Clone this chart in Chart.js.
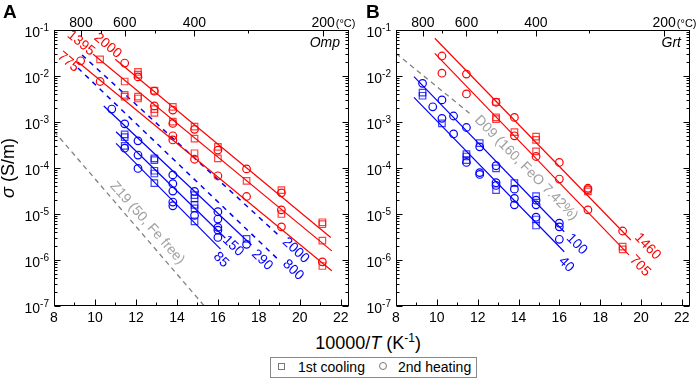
<!DOCTYPE html>
<html><head><meta charset="utf-8">
<script src="https://cdn.jsdelivr.net/npm/chart.js@4.4.1/dist/chart.umd.min.js"></script>
<style>
html,body{margin:0;padding:0;background:#fff;}
#wrap{position:relative;width:699px;height:378px;overflow:hidden;font-family:"Liberation Sans",Arial,sans-serif;color:#000;}
canvas{position:absolute;top:0;}
#cA{left:0;} #cB{left:344px;}
.pl{position:absolute;top:2px;font-weight:bold;font-size:19px;line-height:19px;}
#xt{position:absolute;left:218px;width:300px;text-align:center;top:333px;font-size:18px;line-height:20px;white-space:nowrap;}
#xt .sup{position:relative;top:-7px;font-size:12px;}
#lg{position:absolute;left:270px;top:357px;width:207px;height:21px;border:1px solid #888;box-sizing:border-box;}
.mk{position:absolute;box-sizing:border-box;border:1.2px solid #777;}
.sq{width:7px;height:7px;}
.ci{width:8px;height:8px;border-radius:50%;}
.lt{position:absolute;top:359px;font-size:14px;line-height:16px;white-space:nowrap;}
</style></head>
<body>
<div id="wrap">
  <canvas id="cA" width="362" height="330"></canvas>
  <canvas id="cB" width="355" height="330"></canvas>
  <div class="pl" style="left:3px">A</div>
  <div class="pl" style="left:366px">B</div>
  <div id="xt">10000/<i>T</i> (K<span class="sup">-1</span>)</div>
  <div id="lg"></div>
  <span class="mk sq" style="left:278px;top:363px"></span>
  <span class="lt" style="left:298px">1st cooling</span>
  <span class="mk ci" style="left:379px;top:362px"></span>
  <span class="lt" style="left:398px">2nd heating</span>
</div>
<script>
// ---------- tick labels ----------
const xTickValues = [8, 10, 12, 14, 16, 18, 20, 22];
const tempMajorC = [800, 600, 400, 200];
const tempMinorC = [700, 500, 300];
const yExponents = [-7, -6, -5, -4, -3, -2, -1];

// ---------- Panel A : Omp  (x = 10000/T, y = sigma S/m) ----------
const ompRedCooling = [[10.25,2.29e-2],[11.45,7.59e-3],[11.45,3.89e-3],[11.45,3.55e-3],[12.1,1.23e-2],[12.1,1.07e-2],[12.1,3.55e-3],[12.1,3.24e-3],[12.9,4.79e-3],[12.9,1.91e-3],[12.9,1.58e-3],[13.8,2.14e-3],[13.8,1.02e-3],[14.86,7.94e-4],[14.86,4.37e-4],[14.86,2.09e-4],[16.0,2.88e-4],[16.0,1.62e-4],[17.4,5.25e-5],[19.1,3.31e-5],[19.1,1.0e-5],[21.1,6.61e-6],[21.1,6.03e-6],[21.1,2.63e-6],[21.1,7.41e-7]];
const ompRedHeating = [[9.3,2.14e-2],[10.25,7.59e-3],[11.45,1.91e-2],[12.1,9.55e-3],[12.9,4.68e-3],[12.9,2.24e-3],[13.8,1.82e-3],[13.8,9.33e-4],[13.8,5.01e-4],[13.8,4.07e-4],[14.86,6.92e-4],[14.86,1.55e-4],[16.0,2.45e-4],[16.0,6.76e-5],[17.4,9.55e-5],[17.4,2.40e-5],[19.1,2.88e-5],[19.1,1.23e-5],[19.1,5.25e-6],[21.1,9.12e-7]];
const ompBlueCooling = [[11.45,5.37e-4],[11.45,4.68e-4],[11.45,3.02e-4],[12.9,1.62e-4],[12.9,1.48e-4],[12.9,8.71e-5],[12.9,7.59e-5],[12.9,4.68e-5],[14.86,2.57e-5],[14.86,2.19e-5],[14.86,1.58e-5],[14.86,1.32e-5],[14.86,6.92e-6],[17.4,2.88e-6]];
const ompBlueHeating = [[10.82,1.91e-3],[11.45,9.12e-4],[11.45,2.69e-4],[12.1,3.89e-4],[12.1,1.91e-4],[12.1,9.77e-5],[13.8,7.08e-5],[13.8,4.57e-5],[13.8,3.16e-5],[13.8,1.82e-5],[13.8,1.51e-5],[14.86,3.09e-5],[14.86,9.33e-6],[16.0,1.12e-5],[16.0,7.76e-6],[16.0,5.13e-6],[16.0,4.47e-6],[16.0,3.09e-6],[17.4,2.19e-6]];
const ompFit2000 = [[10.99,2.31e-2],[21.51,3.09e-6]];
const ompFit1395 = [[9.91,2.96e-2],[21.56,1.58e-6]];
const ompFit775  = [[9.17,2.01e-2],[21.56,5.85e-7]];
const ompModel2000 = [[9.37,2.86e-2],[19.06,3.16e-6]];
const ompModel800  = [[9.17,1.49e-2],[18.92,1.05e-6]];
const ompFit290 = [[10.43,2.23e-3],[17.64,2.12e-6]];
const ompFit150 = [[11.03,6.15e-4],[16.36,3.01e-6]];
const ompFit85  = [[11.03,3.44e-4],[16.13,1.73e-6]];
const ompZ19 = [[8,6.31e-4],[15.34,1e-7]];

// ---------- Panel B : Grt ----------
const grtRedCooling = [[12.9,2.75e-3],[12.9,1.26e-3],[12.9,1.15e-3],[13.8,6.03e-4],[14.86,4.79e-4],[14.86,4.07e-4],[14.86,2.29e-4],[17.4,3.09e-5],[19.1,1.95e-6],[19.1,1.70e-6]];
const grtRedHeating = [[10.25,2.72e-2],[10.25,1.15e-2],[11.45,1.10e-2],[11.45,4.07e-3],[12.9,2.69e-3],[13.8,1.26e-3],[13.8,5.01e-4],[14.86,1.78e-4],[16.0,1.32e-4],[16.0,5.75e-5],[17.4,3.63e-5],[17.4,3.39e-5],[17.4,1.23e-5],[19.1,4.27e-6]];
const grtBlueCooling = [[9.3,4.37e-3],[9.3,3.72e-3],[10.25,9.33e-4],[11.45,2.0e-4],[11.45,1.78e-4],[11.45,1.48e-4],[12.1,3.47e-4],[12.9,9.77e-5],[12.9,3.31e-5],[13.8,4.68e-5],[14.86,2.45e-5],[14.86,7.59e-6],[14.86,5.62e-6]];
const grtBlueHeating = [[9.3,6.92e-3],[9.8,2.14e-3],[10.25,3.02e-3],[10.25,1.20e-3],[10.82,1.35e-3],[10.82,5.50e-4],[11.45,7.59e-4],[11.45,1.32e-4],[12.1,2.88e-4],[12.1,7.94e-5],[12.1,7.24e-5],[12.9,1.12e-4],[12.9,4.79e-5],[12.9,4.17e-5],[13.8,3.47e-5],[13.8,2.19e-5],[13.8,1.58e-5],[14.86,2.0e-5],[14.86,1.58e-5],[14.86,8.51e-6],[16.0,6.31e-6],[16.0,5.25e-6],[16.0,2.82e-6]];
const grtFit1460 = [[9.90,6.61e-2],[19.50,2.72e-6]];
const grtFit705  = [[9.90,3.11e-2],[19.41,1.29e-6]];
const grtFit100  = [[8.88,9.66e-3],[16.24,4.12e-6]];
const grtFit40   = [[8.88,3.44e-3],[16.24,1.51e-6]];
const grtD09 = [[8,3.1e-2],[11.6,1.55e-3]];

// ---------- styles ----------
const FONT = "'Liberation Sans', Arial, sans-serif";
const RED = '#ff0000', BLUE = '#0000ff', GRAY = '#808080', LGRAY = '#a0a0a0';
const RED_SQ = 'rgba(255,0,0,0.75)', BLUE_SQ = 'rgba(0,0,255,0.75)';
Chart.defaults.font.family = FONT;
Chart.defaults.color = '#000';

const ompLabels = [
  {t:'2000', x:10.62, y:4.54e-2, a:39.5, c:RED},
  {t:'1395', x:9.32, y:5.14e-2, a:39.5, c:RED},
  {t:'775', x:8.69, y:2.01e-2, a:39.5, c:RED},
  {t:'2000', x:19.80, y:1.61e-6, a:43, c:BLUE},
  {t:'800', x:19.67, y:6.07e-7, a:43, c:BLUE},
  {t:'290', x:18.16, y:1.0e-6, a:44, c:BLUE},
  {t:'150', x:16.74, y:2.01e-6, a:44, c:BLUE},
  {t:'85', x:16.15, y:1.0e-6, a:44, c:BLUE},
  {t:'Z19 (50, Fe free)', x:12.55, y:6.37e-6, a:48.5, c:LGRAY}
];
const grtLabels = [
  {t:'1460', x:20.32, y:1.96e-6, a:46, c:RED},
  {t:'705', x:19.95, y:7.41e-7, a:46, c:RED},
  {t:'100', x:16.85, y:2.2e-6, a:45, c:BLUE},
  {t:'40', x:16.34, y:8.0e-7, a:45, c:BLUE},
  {t:'D09 (160, FeO 7.42%)', x:14.37, y:1.0e-4, a:45.5, c:LGRAY}
];

const toXY = arr => arr.map(p => ({x: p[0], y: p[1]}));
function pts(arr, style, color, r) {
  return {type:'scatter', data: toXY(arr), pointStyle: style, pointRadius: r, pointHoverRadius: r,
    borderColor: color, backgroundColor: 'rgba(0,0,0,0)', pointBorderWidth: 1.2, borderWidth: 1.2, showLine: false};
}
function line(arr, color, dash, w) {
  return {type:'line', data: toXY(arr), borderColor: color, borderWidth: w || 1.2, borderDash: dash || [],
    pointRadius: 0, fill: false, tension: 0};
}

const framePlugin = {
  id: 'frame',
  afterDatasetsDraw(chart) {
    const o = chart.options.plugins.frame;
    const ctx = chart.ctx, X = chart.scales.x, Y = chart.scales.y;
    ctx.save();
    ctx.textAlign = 'center'; ctx.textBaseline = 'middle';
    ctx.font = '14px ' + FONT;
    o.labels.forEach(l => {
      ctx.save();
      ctx.translate(X.getPixelForValue(l.x), Y.getPixelForValue(l.y));
      ctx.rotate(l.a * Math.PI / 180);
      ctx.fillStyle = l.c;
      ctx.fillText(l.t, 0, 0);
      ctx.restore();
    });
    ctx.restore();
  },
  afterDraw(chart) {
    const o = chart.options.plugins.frame;
    const ctx = chart.ctx, a = chart.chartArea, X = chart.scales.x, Y = chart.scales.y;
    ctx.save();
    ctx.strokeStyle = '#000'; ctx.lineWidth = 1;
    const L = Math.round(a.left) + 0.5, R = Math.round(a.right) - 0.5, T = Math.round(a.top) + 0.5, B = Math.round(a.bottom) - 0.5;
    ctx.strokeRect(L, T, R - L, B - T);
    ctx.beginPath();
    for (let v = 8; v <= 22; v++) {
      const px = Math.round(X.getPixelForValue(v)) + 0.5, len = v % 2 === 0 ? 6 : 3;
      ctx.moveTo(px, B); ctx.lineTo(px, B - len);
    }
    tempMajorC.concat(tempMinorC).forEach(t => {
      const px = Math.round(X.getPixelForValue(10000 / (t + 273.15))) + 0.5;
      const len = tempMajorC.includes(t) ? 6 : 3;
      ctx.moveTo(px, T); ctx.lineTo(px, T + len);
    });
    yExponents.forEach(e => {
      for (let m = 1; m <= 9; m++) {
        if (e === -1 && m > 1) break;
        const py = Math.round(Y.getPixelForValue(m * Math.pow(10, e))) + 0.5, len = m === 1 ? 6 : 3;
        ctx.moveTo(L, py); ctx.lineTo(L + len, py);
        ctx.moveTo(R, py); ctx.lineTo(R - len, py);
      }
    });
    ctx.stroke();
    // y tick labels 10^n
    ctx.fillStyle = '#000';
    ctx.textBaseline = 'alphabetic'; ctx.textAlign = 'left';
    yExponents.forEach(e => {
      const py = Y.getPixelForValue(Math.pow(10, e));
      const sup = '-' + Math.abs(e);
      ctx.font = '10px ' + FONT; const w2 = ctx.measureText(sup).width;
      ctx.font = '14px ' + FONT; const w1 = ctx.measureText('10').width;
      const right = a.left - 5;
      ctx.fillText('10', right - w2 - w1, py + 7);
      ctx.font = '10px ' + FONT;
      ctx.fillText(sup, right - w2, py + 1);
    });
    // (°C) unit after 200
    ctx.font = '14px ' + FONT;
    const w200 = ctx.measureText('200').width;
    const p200 = X.getPixelForValue(10000 / (200 + 273.15));
    ctx.font = '11px ' + FONT;
    ctx.fillText('(°C)', p200 + w200 / 2 + 1, 27);
    // mineral name
    ctx.font = 'italic 14px ' + FONT; ctx.textAlign = 'right';
    ctx.fillText(o.mineral, a.right - 9, 47);
    // y title
    if (o.ytitle) {
      ctx.save();
      ctx.translate(14, (a.top + a.bottom) / 2);
      ctx.rotate(-Math.PI / 2);
      ctx.textAlign = 'left';
      ctx.font = 'italic 18px ' + FONT; const ws = ctx.measureText('σ').width;
      ctx.font = '18px ' + FONT; const wr = ctx.measureText(' (S/m)').width;
      const x0 = -(ws + wr) / 2;
      ctx.font = 'italic 18px ' + FONT; ctx.fillText('σ', x0, 0);
      ctx.font = '18px ' + FONT; ctx.fillText(' (S/m)', x0 + ws, 0);
      ctx.restore();
    }
    ctx.restore();
  }
};

function makeChart(id, datasets, cfg) {
  return new Chart(document.getElementById(id), {
    type: 'scatter',
    data: {datasets},
    options: {
      responsive: false, animation: false, devicePixelRatio: 1,
      layout: {padding: {left: 0, right: cfg.padRight, top: 0, bottom: 0}},
      plugins: {legend: {display: false}, tooltip: {enabled: false},
        frame: {labels: cfg.labels, mineral: cfg.mineral, ytitle: cfg.ytitle}},
      scales: {
        x: {type: 'linear', position: 'bottom', min: 8, max: 22.4,
          grid: {display: false, drawTicks: false}, border: {display: false},
          afterBuildTicks: s => { s.ticks = xTickValues.map(v => ({value: v})); },
          afterFit: s => { s.height = 24; },
          ticks: {font: {size: 14, lineHeight: 1}, padding: 5, maxRotation: 0, autoSkip: false, color: '#000'}},
        xt: {type: 'linear', position: 'top', min: 8, max: 22.4,
          grid: {display: false, drawTicks: false}, border: {display: false},
          afterBuildTicks: s => { s.ticks = tempMajorC.map(t => ({value: 10000 / (t + 273.15)})); },
          afterFit: s => { s.height = 30; },
          ticks: {font: {size: 14, lineHeight: 1}, padding: 0, maxRotation: 0, autoSkip: false, color: '#000',
            callback: (v, i) => String(tempMajorC[i])}},
        y: {type: 'logarithmic', position: 'left', min: 1e-7, max: 1e-1,
          grid: {display: false}, border: {display: false}, ticks: {display: false},
          afterFit: s => { s.width = cfg.yWidth; }}
      }
    },
    plugins: [framePlugin]
  });
}

makeChart('cA', [
  pts(ompRedCooling, 'rect', RED_SQ, 4.6),
  pts(ompRedHeating, 'circle', RED, 3.8),
  pts(ompBlueCooling, 'rect', BLUE_SQ, 4.6),
  pts(ompBlueHeating, 'circle', BLUE, 3.8),
  line(ompFit2000, RED), line(ompFit1395, RED), line(ompFit775, RED),
  line(ompModel2000, BLUE, [5, 5], 1.5), line(ompModel800, BLUE, [5, 5], 1.5),
  line(ompFit290, BLUE), line(ompFit150, BLUE), line(ompFit85, BLUE),
  line(ompZ19, GRAY, [5, 4], 1.3)
], {padRight: 13, yWidth: 54, labels: ompLabels, mineral: 'Omp', ytitle: true});

makeChart('cB', [
  pts(grtRedCooling, 'rect', RED_SQ, 4.6),
  pts(grtRedHeating, 'circle', RED, 3.8),
  pts(grtBlueCooling, 'rect', BLUE_SQ, 4.6),
  pts(grtBlueHeating, 'circle', BLUE, 3.8),
  line(grtFit1460, RED), line(grtFit705, RED),
  line(grtFit100, BLUE), line(grtFit40, BLUE),
  line(grtD09, GRAY, [5, 4], 1.3)
], {padRight: 9, yWidth: 52, labels: grtLabels, mineral: 'Grt', ytitle: false});
</script>
</body></html>
